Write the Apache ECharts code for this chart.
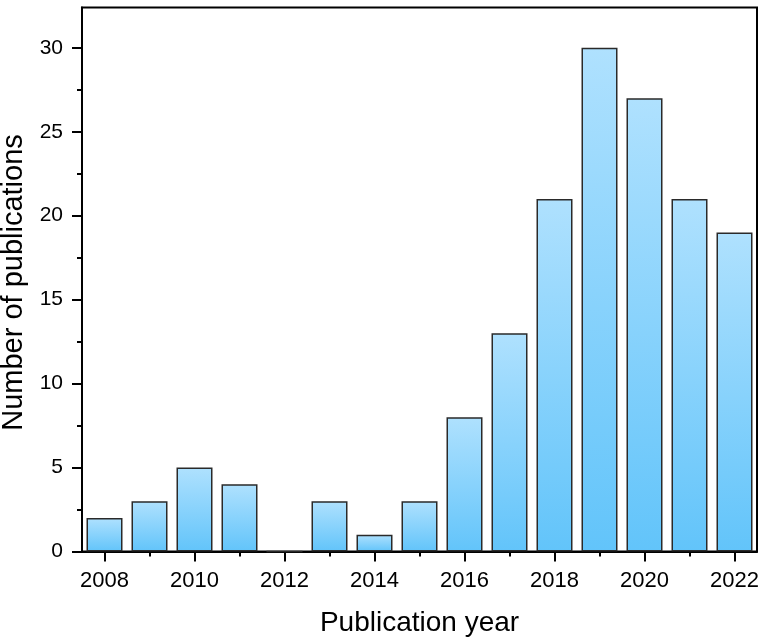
<!DOCTYPE html>
<html>
<head>
<meta charset="utf-8">
<script src="https://cdn.jsdelivr.net/npm/echarts@6/dist/echarts.min.js"></script>
<style>
html,body{margin:0;padding:0;background:#fff;}
#chart{width:767px;height:644px;}
</style>
</head>
<body>
<div id="chart"></div>
<script>
const years = ['2008','2009','2010','2011','2012','2013','2014','2015','2016','2017','2018','2019','2020','2021','2022'];
const publications = [2, 3, 5, 4, 0, 3, 1, 3, 8, 13, 21, 30, 27, 21, 19];
const yTickValues = [0, 5, 10, 15, 20, 25, 30];
const yMinorTickValues = [2.5, 7.5, 12.5, 17.5, 22.5, 27.5];
const yMax = 32.4;

const FONT = '"Liberation Sans", Arial, sans-serif';
const chart = echarts.init(document.getElementById('chart'), null, {renderer: 'canvas'});
chart.setOption({
  animation: false,
  backgroundColor: '#fff',
  grid: {
    left: 82, right: 10, top: 7.5, bottom: 92.5,
    outerBoundsMode: 'none',
    containLabel: false,
    show: true, borderColor: '#000', borderWidth: 2, backgroundColor: 'transparent'
  },
  xAxis: [{
    type: 'category',
    data: years,
    position: 'bottom',
    name: 'Publication year',
    nameLocation: 'middle',
    nameGap: 58,
    nameTextStyle: {fontFamily: FONT, fontSize: 28, color: '#000'},
    axisLine: {show: true, lineStyle: {color: '#000', width: 2}},
    axisTick: {show: true, alignWithLabel: true, interval: (i) => i % 2 === 0, length: 10, lineStyle: {color: '#000', width: 2}},
    axisLabel: {interval: (i) => i % 2 === 0, fontFamily: FONT, fontSize: 22, color: '#000', margin: 18},
    splitLine: {show: false}
  }, {
    type: 'category',
    data: years,
    position: 'bottom',
    axisLine: {show: false},
    axisTick: {show: true, alignWithLabel: true, interval: (i) => i % 2 === 1, length: 5, lineStyle: {color: '#000', width: 2}},
    axisLabel: {show: false},
    splitLine: {show: false}
  }],
  yAxis: [{
    type: 'value',
    min: 0,
    max: yMax,
    position: 'left',
    name: 'Number of publications',
    nameLocation: 'middle',
    nameGap: 44,
    nameTextStyle: {fontFamily: FONT, fontSize: 29, color: '#000', padding: [0, 6, 0, 0]},
    axisLine: {show: true, lineStyle: {color: '#000', width: 2}},
    axisTick: {show: true, customValues: yTickValues, length: 10, lineStyle: {color: '#000', width: 2}},
    axisLabel: {customValues: yTickValues, fontFamily: FONT, fontSize: 21, color: '#000', margin: 19},
    splitLine: {show: false}
  }, {
    type: 'value',
    min: 0,
    max: yMax,
    position: 'left',
    axisLine: {show: false},
    axisTick: {show: true, customValues: yMinorTickValues, length: 5, lineStyle: {color: '#000', width: 2}},
    axisLabel: {show: false},
    splitLine: {show: false}
  }],
  series: [{
    type: 'bar',
    xAxisIndex: 0,
    yAxisIndex: 0,
    data: publications,
    barWidth: '80%',
    itemStyle: {
      color: new echarts.graphic.LinearGradient(0, 0, 0, 1, [
        {offset: 0, color: '#afe1fe'},
        {offset: 1, color: '#62c4fa'}
      ]),
      borderColor: '#2a2a2a',
      borderWidth: 1.5
    }
  }]
});
</script>
</body>
</html>
